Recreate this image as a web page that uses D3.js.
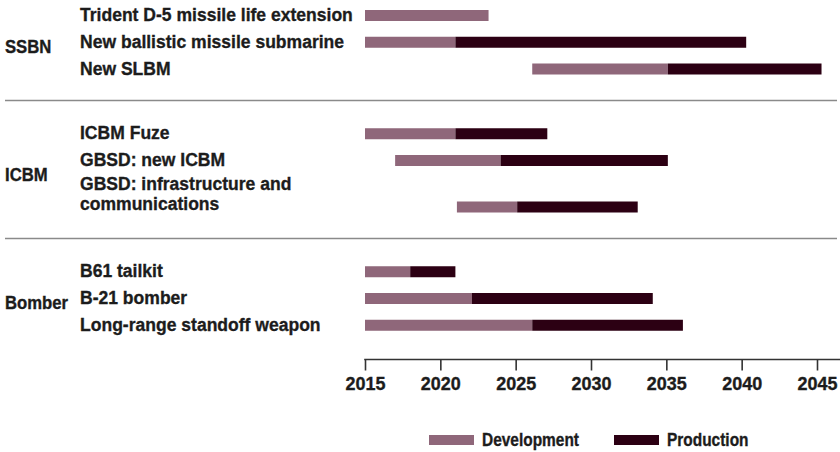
<!DOCTYPE html>
<html><head><meta charset="utf-8">
<script src="https://cdn.jsdelivr.net/npm/d3@7"></script>
<style>
body{margin:0;background:#fff;}
svg{display:block;font-family:"Liberation Sans",Arial,sans-serif;font-weight:bold;}
svg text{stroke:#1c1c1c;stroke-width:0.35px;}
</style></head>
<body><svg id="chart" width="840" height="452"></svg>
<script>
// ---- data ----
const groups = ["SSBN", "ICBM", "Bomber"];
const programs = [
  "Trident D-5 missile life extension",
  "New ballistic missile submarine",
  "New SLBM",
  "ICBM Fuze",
  "GBSD: new ICBM",
  "GBSD: infrastructure and|communications",
  "B61 tailkit",
  "B-21 bomber",
  "Long-range standoff weapon"
];
const programGroup = ["SSBN","SSBN","SSBN","ICBM","ICBM","ICBM","Bomber","Bomber","Bomber"];
const devStart = [2015, 2015, 2026.1, 2015, 2017, 2021.1, 2015, 2015, 2015];
const devEnd   = [2023.2, 2021, 2035.1, 2021, 2024, 2025.1, 2018, 2022.1, 2026.1];
const prodEnd  = [null, 2040.3, 2045.3, 2027.1, 2035.1, 2033.1, 2021, 2034.1, 2036.1];
const tickYears = [2015, 2020, 2025, 2030, 2035, 2040, 2045];
const seriesNames = ["Development", "Production"];
const colors = ["#8f677a", "#2c0013"];

// ---- layout ----
const W = 840, H = 452;
const svg = d3.select("#chart");
const x = d3.scaleLinear().domain([2015, 2045]).range([365, 817]);
const rowStep = 26.75, extraLine = 19.75, groupGap = 38, firstY = 15.5, barH = 11;
const textColor = "#1c1c1c";

// horizontal compression factor to mimic a condensed face
function squeeze(sample, size, target) {
  const t = svg.append("text").attr("font-size", size).text(sample);
  const w = t.node().getComputedTextLength();
  t.remove();
  return target / w;
}
const sxItem = squeeze("Trident D-5 missile life extension", 18.5, 273);
const sxGroup = squeeze("Bomber", 17.5, 63);
const sxTick = squeeze("2015", 18.5, 40);
const sxLeg = squeeze("Development", 17.5, 97);

function label(px, py, size, sx, str) {
  return svg.append("text").attr("transform", `translate(${px},${py}) scale(${sx},1)`)
    .attr("font-size", size).attr("fill", textColor).text(str);
}

// compute row centers
const yCenter = [];
let cy = firstY;
programs.forEach((p, i) => {
  if (i > 0) {
    cy += rowStep;
    if (programGroup[i] !== programGroup[i - 1]) cy += groupGap;
    const lines = p.split("|").length;
    if (lines > 1) cy += extraLine * (lines - 1);
  }
  yCenter.push(cy);
});

// separators
for (let i = 1; i < programs.length; i++) {
  if (programGroup[i] !== programGroup[i - 1]) {
    const yy = (yCenter[i] + yCenter[i - 1]) / 2 - 1;
    svg.append("line").attr("x1", 5).attr("x2", 837).attr("y1", yy).attr("y2", yy)
      .attr("stroke", "#8a8a8a").attr("stroke-width", 1.5);
  }
}

// group labels
groups.forEach(g => {
  const idx = programGroup.map((d, i) => d === g ? i : -1).filter(i => i >= 0);
  const mid = (yCenter[idx[0]] + yCenter[idx[idx.length - 1]]) / 2;
  label(5, mid + 10.5, 17.5, sxGroup, g);
});

// program labels (multi-line labels as one text element with tspans)
const lineGap = 20.8;
programs.forEach((p, i) => {
  const lines = p.split("|");
  const firstBase = lines.length === 1 ? yCenter[i] + 5.5 : yCenter[i] + 3.5 - (lines.length - 1) * lineGap;
  const t = label(80, firstBase, 18.5, sxItem, null);
  lines.forEach((l, k) => {
    t.append("tspan").attr("x", 0).attr("y", k * lineGap).text(l);
  });
});

// bars
const bars = svg.append("g");
programs.forEach((p, i) => {
  bars.append("rect").attr("x", x(devStart[i])).attr("width", x(devEnd[i]) - x(devStart[i]))
    .attr("y", yCenter[i] - barH / 2).attr("height", barH).attr("fill", colors[0]);
  if (prodEnd[i] != null) {
    bars.append("rect").attr("x", x(devEnd[i])).attr("width", x(prodEnd[i]) - x(devEnd[i]))
      .attr("y", yCenter[i] - barH / 2).attr("height", barH).attr("fill", colors[1]);
  }
});

// axis
const axisY = 359.5;
const ax = svg.append("g").attr("transform", `translate(0,${axisY})`)
  .call(d3.axisBottom(x).tickValues(tickYears).tickFormat(d3.format("d")).tickSize(11).tickSizeOuter(0));
ax.select(".domain").remove();
ax.append("line").attr("x1", x(2015) - 0.8).attr("x2", W).attr("y1", 0).attr("y2", 0)
  .attr("stroke", "#333").attr("stroke-width", 1.6);
ax.selectAll(".tick line").attr("stroke", "#333").attr("stroke-width", 1.6);
ax.selectAll(".tick text")
  .attr("font-size", 18.5).attr("font-family", "Liberation Sans, Arial, sans-serif")
  .attr("font-weight", "bold").attr("fill", textColor)
  .attr("y", null).attr("dy", null)
  .attr("transform", `translate(0,30.8) scale(${sxTick},1)`);

// legend
const legX = [429, 614];
seriesNames.forEach((s, k) => {
  svg.append("rect").attr("x", legX[k]).attr("y", 435).attr("width", 45).attr("height", 10).attr("fill", colors[k]);
  label(legX[k] + 53, 445.5, 17.5, sxLeg, s);
});
</script></body></html>
